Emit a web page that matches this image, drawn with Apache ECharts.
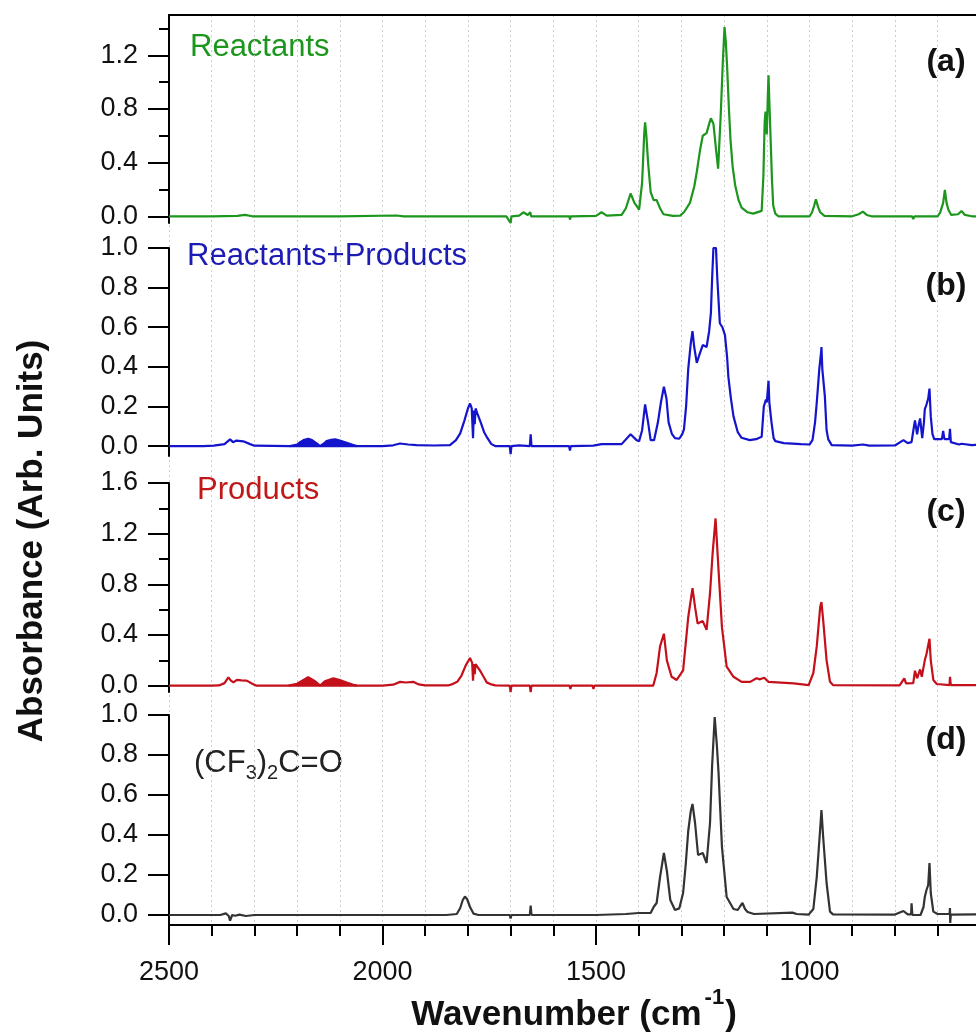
<!DOCTYPE html>
<html>
<head>
<meta charset="utf-8">
<script src="https://cdn.jsdelivr.net/npm/echarts@6/dist/echarts.min.js"></script>
<style>
  html, body { margin: 0; padding: 0; background: #fff; }
  #main { width: 976px; height: 1036px; }
</style>
</head>
<body>
<div id="main"></div>
<script>
// spectra: [wavenumber (cm-1), absorbance]
const reactants = [
  [2500, 0], [2400, 0], [2340, 0.003], [2322, 0.01], [2305, 0], [2100, 0], [1967, 0.006], [1950, 0],
  [1710, 0], [1700, -0.05], [1698, 0], [1680, 0.005], [1670, 0.03], [1660, 0.01], [1654, 0.03], [1652, 0],
  [1600, 0], [1562, 0], [1561, -0.025], [1559, 0], [1500, 0.003], [1487, 0.03], [1475, 0.005],
  [1440, 0.01], [1430, 0.06], [1419, 0.17], [1410, 0.1], [1399, 0.05], [1392, 0.25], [1387, 0.62],
  [1385, 0.70], [1382, 0.6], [1378, 0.4], [1372, 0.18], [1365, 0.12], [1358, 0.12], [1350, 0.06],
  [1342, 0.015], [1320, 0.003], [1303, 0.005], [1294, 0.03], [1280, 0.10], [1270, 0.22], [1264, 0.33],
  [1256, 0.5], [1250, 0.6], [1241, 0.62], [1234, 0.7], [1231, 0.73], [1225, 0.69], [1219, 0.5],
  [1214, 0.355], [1208, 0.75], [1203, 1.15], [1199, 1.41], [1196, 1.3], [1193, 1.12], [1189, 0.82],
  [1185, 0.57], [1180, 0.37], [1174, 0.23], [1166, 0.12], [1159, 0.065], [1145, 0.03], [1132, 0.02],
  [1112, 0.04], [1108, 0.3], [1105, 0.7], [1103, 0.78], [1100, 0.61], [1098, 0.85], [1096, 1.05],
  [1094, 0.85], [1091, 0.57], [1088, 0.28], [1085, 0.08], [1080, 0.02], [1073, 0], [1000, 0],
  [994, 0.03], [989, 0.08], [985, 0.127], [980, 0.07], [975, 0.03], [965, 0.003], [900, 0],
  [885, 0.015], [875, 0.035], [866, 0.01], [855, 0], [800, 0], [760, 0], [757, -0.02], [754, 0],
  [700, 0], [694, 0.027], [687, 0.10], [683, 0.196], [679, 0.1], [675, 0.05], [668, 0.01],
  [652, 0.015], [644, 0.04], [636, 0.01], [620, 0], [610, 0]
];

const mixture = [
  [2500, 0], [2420, 0], [2395, 0.002], [2370, 0.01], [2357, 0.034], [2350, 0.02], [2342, 0.028],
  [2326, 0.024], [2310, 0.01], [2300, 0.002], [2217, 0], [2060, 0], [2000, 0], [1975, 0.004],
  [1959, 0.013], [1940, 0.008], [1920, 0.005], [1880, 0.003], [1842, 0.005], [1838, 0.01],
  [1828, 0.03], [1818, 0.064], [1808, 0.13], [1800, 0.19], [1795, 0.215], [1791, 0.19], [1789, 0.2],
  [1788, 0.04], [1786, 0.18], [1784, 0.11], [1782, 0.19], [1778, 0.165], [1770, 0.12], [1762, 0.07],
  [1756, 0.047], [1745, 0.01], [1736, 0], [1702, 0], [1700, -0.04], [1698, 0], [1680, 0.004],
  [1655, 0], [1653, 0.06], [1651, 0], [1600, 0], [1563, 0], [1561, -0.022], [1559, 0],
  [1506, 0.002], [1487, 0.01], [1440, 0.01], [1419, 0.06], [1405, 0.03], [1399, 0.025],
  [1392, 0.08], [1385, 0.21], [1378, 0.12], [1372, 0.03], [1364, 0.03], [1355, 0.12], [1348, 0.22],
  [1341, 0.30], [1335, 0.24], [1330, 0.12], [1322, 0.06], [1315, 0.04], [1305, 0.037], [1298, 0.06],
  [1294, 0.084], [1289, 0.2], [1284, 0.39], [1278, 0.52], [1274, 0.58], [1270, 0.5], [1264, 0.42],
  [1258, 0.46], [1250, 0.51], [1241, 0.50], [1235, 0.58], [1231, 0.67], [1228, 0.85], [1225, 1.0],
  [1219, 1.0], [1216, 0.85], [1210, 0.62], [1204, 0.6], [1200, 0.59], [1198, 0.56], [1193, 0.45],
  [1190, 0.35], [1184, 0.24], [1178, 0.15], [1168, 0.07], [1159, 0.042], [1140, 0.03], [1125, 0.035],
  [1112, 0.047], [1107, 0.2], [1102, 0.235], [1100, 0.22], [1096, 0.33], [1094, 0.22], [1089, 0.12],
  [1084, 0.04], [1080, 0.025], [1060, 0.015], [1020, 0.01], [1000, 0.008], [993, 0.03], [987, 0.12],
  [983, 0.22], [977, 0.39], [973, 0.47], [972, 0.50], [970, 0.39], [964, 0.25], [960, 0.08],
  [956, 0.034], [948, 0.005], [900, 0.002], [875, 0.008], [860, 0.002], [800, 0.003], [780, 0.03],
  [770, 0.015], [761, 0.02], [756, 0.09], [753, 0.13], [748, 0.06], [745, 0.1], [741, 0.14],
  [736, 0.04], [732, 0.12], [730, 0.185], [726, 0.21], [722, 0.24], [719, 0.29], [716, 0.15],
  [712, 0.06], [708, 0.035], [690, 0.035], [687, 0.076], [684, 0.035], [673, 0.035], [671, 0.087],
  [669, 0.02], [650, 0.008], [644, 0.012], [620, 0.005], [610, 0.006]
];

const mixtureCO = [
  [2217, 0], [2200, 0.008], [2193, 0.02], [2185, 0.03], [2174, 0.037], [2165, 0.03], [2155, 0.015],
  [2146, 0], [2138, 0.012], [2131, 0.025], [2120, 0.032], [2111, 0.034], [2100, 0.028], [2084, 0.017],
  [2070, 0.006], [2060, 0]
];

const products = [
  [2500, 0], [2400, 0], [2383, 0.002], [2370, 0.02], [2361, 0.066], [2355, 0.04], [2349, 0.026],
  [2341, 0.045], [2330, 0.042], [2318, 0.04], [2305, 0.015], [2295, 0], [2220, 0], [2060, 0],
  [2000, 0], [1975, 0.008], [1959, 0.03], [1945, 0.025], [1928, 0.03], [1915, 0.01], [1900, 0.003],
  [1845, 0.003], [1838, 0.01], [1825, 0.03], [1815, 0.08], [1805, 0.16], [1795, 0.218], [1790, 0.18],
  [1789, 0.19], [1788, 0.04], [1786, 0.17], [1784, 0.09], [1782, 0.17], [1778, 0.155], [1770, 0.11],
  [1760, 0.05], [1756, 0.026], [1745, 0.01], [1736, 0.002], [1702, 0], [1700, -0.05], [1698, 0],
  [1655, 0], [1653, -0.05], [1651, 0], [1600, 0], [1562, 0], [1560, -0.026], [1558, 0], [1508, 0],
  [1506, -0.026], [1504, 0], [1366, 0], [1358, 0.1], [1350, 0.31], [1341, 0.41], [1334, 0.2],
  [1323, 0.07], [1311, 0.045], [1296, 0.12], [1284, 0.54], [1274, 0.77], [1268, 0.62], [1262, 0.49],
  [1250, 0.51], [1241, 0.44], [1233, 0.73], [1227, 1.04], [1220, 1.32], [1213, 0.91], [1205, 0.46],
  [1194, 0.15], [1178, 0.07], [1159, 0.03], [1139, 0.03], [1124, 0.058], [1116, 0.05], [1106, 0.063],
  [1096, 0.03], [1037, 0.018], [1002, 0.005], [991, 0.1], [983, 0.31], [975, 0.62], [972, 0.66],
  [968, 0.52], [960, 0.2], [952, 0.03], [945, 0.005], [789, 0.003], [778, 0.058], [774, 0.018],
  [757, 0.02], [753, 0.118], [748, 0.058], [741, 0.128], [737, 0.07], [730, 0.2], [726, 0.25],
  [719, 0.37], [716, 0.2], [710, 0.045], [702, 0.013], [672, 0.005], [671, 0.07], [669, 0.005],
  [610, 0.005]
];

const productsCO = [
  [2220, 0], [2200, 0.015], [2185, 0.045], [2174, 0.066], [2160, 0.04], [2146, 0], [2135, 0.035],
  [2115, 0.058], [2100, 0.045], [2084, 0.024], [2070, 0.008], [2060, 0]
];

const ketone = [
  [2500, 0], [2380, 0], [2367, 0.008], [2360, -0.005], [2357, -0.028], [2352, 0], [2345, -0.004],
  [2335, 0.002], [2320, -0.005], [2300, 0], [1850, 0], [1826, 0.005], [1818, 0.035], [1812, 0.075],
  [1807, 0.092], [1802, 0.08], [1795, 0.04], [1787, 0.007], [1775, 0], [1702, 0], [1700, -0.017],
  [1698, 0], [1655, 0], [1653, 0.047], [1651, 0], [1600, 0], [1500, 0], [1430, 0.005], [1400, 0.01],
  [1372, 0.01], [1365, 0.04], [1358, 0.06], [1350, 0.19], [1341, 0.31], [1334, 0.22], [1326, 0.075],
  [1315, 0.025], [1305, 0.033], [1296, 0.11], [1290, 0.25], [1284, 0.42], [1278, 0.52], [1274, 0.555],
  [1268, 0.46], [1261, 0.3], [1250, 0.31], [1241, 0.26], [1233, 0.46], [1228, 0.75], [1222, 0.99],
  [1217, 0.85], [1213, 0.71], [1205, 0.34], [1194, 0.09], [1178, 0.03], [1168, 0.025], [1162, 0.045],
  [1157, 0.06], [1151, 0.03], [1145, 0.015], [1130, 0.005], [1040, 0.012], [1030, 0.005],
  [1002, 0.002], [991, 0.03], [983, 0.19], [975, 0.43], [972, 0.525], [968, 0.39], [960, 0.16],
  [952, 0.017], [945, 0.003], [800, 0.002], [780, 0.02], [770, 0.003], [762, 0.003], [761, 0.058],
  [759, 0], [740, 0], [733, 0.04], [730, 0.09], [726, 0.125], [722, 0.15], [719, 0.26], [716, 0.11],
  [710, 0.017], [700, 0.005], [672, 0.005], [671, 0.035], [670.5, -0.04], [669, 0.002], [610, 0.003]
];

// y tick positions
const ticksA = [0, 0.4, 0.8, 1.2];
const minorA = [0.2, 0.6, 1.0, 1.4];
const ticksB = [0, 0.2, 0.4, 0.6, 0.8, 1.0];
const ticksC = [0, 0.4, 0.8, 1.2, 1.6];
const minorC = [0.2, 0.6, 1.0, 1.4];
const ticksD = [0, 0.2, 0.4, 0.6, 0.8, 1.0];

const FONT = '"Liberation Sans", Arial, sans-serif';
const GREEN = '#1c961c';
const BLUE = '#1414cc';
const RED = '#c4101a';
const GREY = '#333333';

const X_MIN = 500, X_MAX = 2500;
const LEFT = 169, WIDTH = 854;

function xHidden(grid) {
  return {
    type: 'value', gridIndex: grid, min: X_MIN, max: X_MAX, inverse: true, interval: 500,
    axisLine: { show: false, onZero: false }, axisTick: { show: false },
    axisLabel: { show: false }, splitLine: { show: false }
  };
}

function yMajor(grid, min, max, ticks) {
  return {
    type: 'value', gridIndex: grid, min: min, max: max, position: 'left',
    axisLine: { show: true, onZero: false, lineStyle: { color: '#000', width: 2 } },
    axisTick: { show: true, length: 21, customValues: ticks, lineStyle: { color: '#000', width: 2 } },
    axisLabel: {
      customValues: ticks, formatter: v => v.toFixed(1), fontSize: 27, color: '#111',
      fontFamily: FONT, margin: 31
    },
    splitLine: { show: false }
  };
}

function yMinor(grid, min, max, ticks) {
  return {
    type: 'value', gridIndex: grid, min: min, max: max, position: 'left',
    axisLine: { show: false, onZero: false },
    axisTick: { show: true, length: 10, customValues: ticks, lineStyle: { color: '#000', width: 2 } },
    axisLabel: { show: false }, splitLine: { show: false }
  };
}

function spectrum(idx, data, color, fill) {
  const s = {
    type: 'line', xAxisIndex: idx[0], yAxisIndex: idx[1], data: data,
    showSymbol: false, symbol: 'none', silent: true,
    lineStyle: { color: color, width: 2.2 }, itemStyle: { color: color }
  };
  if (fill) s.areaStyle = { color: color, opacity: 1 };
  return s;
}

const dotted = { color: '#cdcdcd', width: 1, type: [2, 3] };

const chart = echarts.init(document.getElementById('main'), null, { renderer: 'canvas' });
chart.setOption({
  animation: false,
  backgroundColor: '#fff',
  grid: [
    { left: LEFT, top: 15, width: WIDTH, height: 208, containLabel: false, outerBoundsMode: 'none' },
    { left: LEFT, top: 248, width: WIDTH, height: 208, containLabel: false, outerBoundsMode: 'none' },
    { left: LEFT, top: 483, width: WIDTH, height: 209, containLabel: false, outerBoundsMode: 'none' },
    { left: LEFT, top: 715, width: WIDTH, height: 210, containLabel: false, outerBoundsMode: 'none' },
    { left: LEFT, top: 15, width: WIDTH, height: 910, containLabel: false, outerBoundsMode: 'none' }
  ],
  xAxis: [
    xHidden(0),
    {
      type: 'value', gridIndex: 0, position: 'top', min: X_MIN, max: X_MAX, inverse: true,
      axisLine: { show: true, onZero: false, lineStyle: { color: '#000', width: 2 } },
      axisTick: { show: false }, axisLabel: { show: false }, splitLine: { show: false }
    },
    xHidden(1),
    xHidden(2),
    {
      type: 'value', gridIndex: 3, min: X_MIN, max: X_MAX, inverse: true, interval: 500,
      axisLine: { show: true, onZero: false, lineStyle: { color: '#000', width: 2 } },
      axisTick: { show: true, length: 20, lineStyle: { color: '#000', width: 2 } },
      minorTick: { show: true, splitNumber: 5, length: 11, lineStyle: { color: '#000', width: 2 } },
      axisLabel: { fontSize: 27, color: '#111', fontFamily: FONT, margin: 34, formatter: v => String(v) },
      splitLine: { show: false }
    },
    {
      type: 'value', gridIndex: 4, min: X_MIN, max: X_MAX, inverse: true, interval: 500,
      axisLine: { show: false, onZero: false }, axisTick: { show: false }, axisLabel: { show: false },
      minorTick: { show: false, splitNumber: 5 },
      splitLine: { show: true, lineStyle: dotted },
      minorSplitLine: { show: true, lineStyle: dotted }
    }
  ],
  yAxis: [
    yMajor(0, -0.05, 1.5, ticksA),
    yMinor(0, -0.05, 1.5, minorA),
    yMajor(1, -0.05, 1.0, ticksB),
    yMajor(2, -0.05, 1.6, ticksC),
    yMinor(2, -0.05, 1.6, minorC),
    yMajor(3, -0.05, 1.0, ticksD),
    { type: 'value', gridIndex: 4, min: 0, max: 1, show: false }
  ],
  series: [
    spectrum([0, 0], reactants, GREEN),
    spectrum([2, 2], mixture, BLUE),
    spectrum([2, 2], mixtureCO, BLUE, true),
    spectrum([3, 3], products, RED),
    spectrum([3, 3], productsCO, RED, true),
    spectrum([4, 5], ketone, GREY)
  ],
  graphic: {
    elements: [
      { type: 'text', x: 190, y: 47, style: { text: 'Reactants', fill: GREEN, fontSize: 31, fontFamily: FONT, textAlign: 'left', textVerticalAlign: 'middle' } },
      { type: 'text', x: 187, y: 256, style: { text: 'Reactants+Products', fill: '#1c1cb4', fontSize: 31, fontFamily: FONT, textAlign: 'left', textVerticalAlign: 'middle' } },
      { type: 'text', x: 197, y: 490, style: { text: 'Products', fill: '#c01818', fontSize: 31, fontFamily: FONT, textAlign: 'left', textVerticalAlign: 'middle' } },
      {
        type: 'text', x: 194, y: 763,
        style: {
          text: '{m|(CF}{s|3}{m|)}{s|2}{m|C=O}', textAlign: 'left', textVerticalAlign: 'middle',
          rich: {
            m: { fontSize: 31, fontFamily: FONT, fill: '#222' },
            s: { fontSize: 20, fontFamily: FONT, fill: '#222', padding: [20, 0, 0, 0] }
          }
        }
      },
      { type: 'text', x: 946, y: 62, style: { text: '(a)', fill: '#111', fontSize: 32, fontWeight: 'bold', fontFamily: FONT, textAlign: 'center', textVerticalAlign: 'middle' } },
      { type: 'text', x: 946, y: 286, style: { text: '(b)', fill: '#111', fontSize: 32, fontWeight: 'bold', fontFamily: FONT, textAlign: 'center', textVerticalAlign: 'middle' } },
      { type: 'text', x: 946, y: 512, style: { text: '(c)', fill: '#111', fontSize: 32, fontWeight: 'bold', fontFamily: FONT, textAlign: 'center', textVerticalAlign: 'middle' } },
      { type: 'text', x: 946, y: 740, style: { text: '(d)', fill: '#111', fontSize: 32, fontWeight: 'bold', fontFamily: FONT, textAlign: 'center', textVerticalAlign: 'middle' } },
      {
        type: 'text', x: 32, y: 541, rotation: Math.PI / 2,
        style: { text: 'Absorbance (Arb. Units)', fill: '#111', fontSize: 35, fontWeight: 'bold', fontFamily: FONT, textAlign: 'center', textVerticalAlign: 'middle' }
      },
      {
        type: 'text', x: 574, y: 1015,
        style: {
          text: '{m|Wavenumber (cm}{p|-1}{m|)}', textAlign: 'center', textVerticalAlign: 'middle',
          rich: {
            m: { fontSize: 35, fontWeight: 'bold', fontFamily: FONT, fill: '#111' },
            p: { fontSize: 22, fontWeight: 'bold', fontFamily: FONT, fill: '#111', padding: [0, 1, 34, 3] }
          }
        }
      }
    ]
  }
});
</script>
</body>
</html>
